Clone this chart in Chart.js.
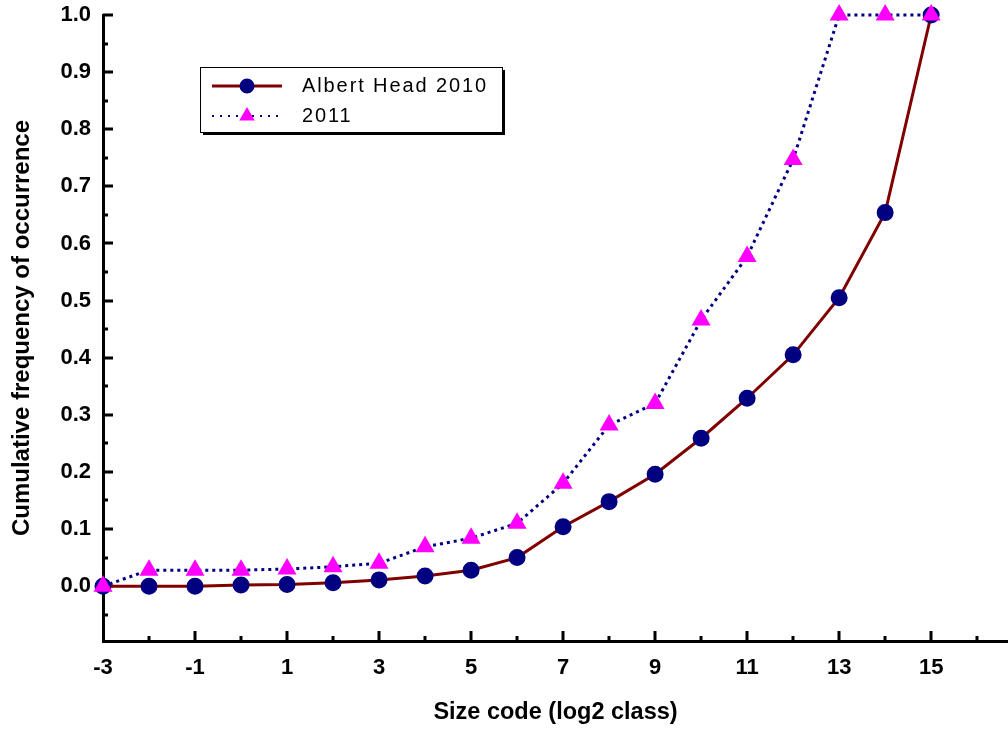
<!DOCTYPE html>
<html>
<head>
<meta charset="utf-8">
<script src="https://cdn.jsdelivr.net/npm/chart.js@4.4.1/dist/chart.umd.min.js"></script>
<style>
  html, body { margin: 0; padding: 0; background: #fff; }
  canvas { display: block; }
</style>
</head>
<body>
<canvas id="chart" width="1008" height="732"></canvas>
<script>
const SIZE_CODES = [-3, -2, -1, 0, 1, 2, 3, 4, 5, 6, 7, 8, 9, 10, 11, 12, 13, 14, 15];
const FREQ_2010  = [0.0, 0.0, 0.0, 0.002, 0.003, 0.006, 0.011, 0.018, 0.028, 0.050, 0.104, 0.148, 0.196, 0.259, 0.329, 0.405, 0.505, 0.654, 1.0];
const FREQ_2011  = [0.0, 0.028, 0.028, 0.028, 0.030, 0.034, 0.040, 0.069, 0.084, 0.110, 0.180, 0.282, 0.320, 0.466, 0.577, 0.747, 1.0, 1.0, 1.0];

const X_TICKS = [-3, -1, 1, 3, 5, 7, 9, 11, 13, 15];
const Y_TICKS = [0.0, 0.1, 0.2, 0.3, 0.4, 0.5, 0.6, 0.7, 0.8, 0.9, 1.0];

const FONT = "'Liberation Sans', Arial, sans-serif";

// ── Helpers ────────────────────────────────────────────────────────────────

function points(ys) {
  return SIZE_CODES.map((x, i) => ({ x, y: ys[i] }));
}

// inward tick marks, major + minor, like the original plot
const innerTicks = {
  id: 'innerTicks',
  beforeDatasetsDraw(chart) {
    const { ctx, chartArea: a, scales: { x, y } } = chart;
    ctx.save();
    ctx.strokeStyle = '#000';
    ctx.lineWidth = 3;
    ctx.beginPath();
    for (let v = -0.05; v <= 1.001; v += 0.05) {
      const py = Math.round(y.getPixelForValue(v));
      const major = Math.abs(v * 10 - Math.round(v * 10)) < 0.01;
      ctx.moveTo(a.left, py);
      ctx.lineTo(a.left + (major ? 10 : 5), py);
    }
    for (let v = -2; v <= 16; v++) {
      const px = Math.round(x.getPixelForValue(v));
      const major = Math.abs(v % 2) === 1;
      ctx.moveTo(px, a.bottom);
      ctx.lineTo(px, a.bottom - (major ? 10 : 5));
    }
    ctx.stroke();
    ctx.restore();
  },
};

// boxed legend sitting inside the plot area
const boxLegend = {
  id: 'boxLegend',
  afterDraw(chart) {
    const { ctx } = chart;
    const bx = 200, by = 67, bw = 302, bh = 65;
    ctx.save();
    ctx.fillStyle = '#000';
    ctx.fillRect(bx + 3, by + 3, bw, bh);
    ctx.fillStyle = '#fff';
    ctx.fillRect(bx, by, bw, bh);
    ctx.strokeStyle = '#000';
    ctx.lineWidth = 1;
    ctx.strokeRect(bx + 0.5, by + 0.5, bw, bh);

    const rows = [
      { y: 86, ds: chart.data.datasets[0] },
      { y: 116, ds: chart.data.datasets[1] },
    ];
    rows.forEach(r => {
      ctx.strokeStyle = r.ds.borderColor;
      ctx.lineWidth = r.ds.borderDash ? 2 : 3;
      ctx.setLineDash(r.ds.borderDash ? [2, 6] : []);
      ctx.beginPath();
      ctx.moveTo(212, r.y);
      ctx.lineTo(282, r.y);
      ctx.stroke();
      ctx.setLineDash([]);
      ctx.fillStyle = r.ds.pointBackgroundColor;
      ctx.strokeStyle = r.ds.pointBorderColor;
      Chart.helpers.drawPoint(ctx, {
        pointStyle: r.ds.pointStyle, radius: r.ds.pointRadius - 1, rotation: 0, borderWidth: 1,
      }, 247, r.y);
      ctx.fillStyle = '#000';
      ctx.font = `20px ${FONT}`;
      ctx.textBaseline = 'middle';
      ctx.letterSpacing = '1.9px';
      ctx.fillText(r.ds.label, 302, r.y);
    });
    ctx.restore();
  },
};

// ── Chart ──────────────────────────────────────────────────────────────────

new Chart(document.getElementById('chart'), {
  type: 'line',
  data: {
    datasets: [
      {
        label: 'Albert Head 2010',
        data: points(FREQ_2010),
        borderColor: '#800000',
        borderWidth: 3,
        pointStyle: 'circle',
        pointRadius: 7,
        pointBackgroundColor: '#000080',
        pointBorderColor: '#000080',
        tension: 0,
        clip: false,
        order: 1,
      },
      {
        label: '2011',
        data: points(FREQ_2011),
        borderColor: '#000080',
        borderWidth: 3,
        borderDash: [3, 4],
        pointStyle: 'triangle',
        pointRadius: 8,
        pointBackgroundColor: '#ff00ff',
        pointBorderColor: '#ff00ff',
        tension: 0,
        clip: false,
        order: 0,
      },
    ],
  },
  options: {
    responsive: false,
    animation: false,
    devicePixelRatio: 1,
    layout: { autoPadding: false, padding: { top: 15, right: 0, left: 0, bottom: 0 } },
    plugins: { legend: { display: false }, tooltip: { enabled: false } },
    scales: {
      x: {
        type: 'linear',
        min: -3, max: 16.67,
        afterBuildTicks: s => { s.ticks = X_TICKS.map(v => ({ value: v })); },
        afterFit: s => { s.height = 91; s.paddingLeft = 0; s.paddingRight = 0; },
        grid: { drawOnChartArea: false, drawTicks: false },
        border: { display: true, color: '#000', width: 3 },
        ticks: { color: '#000', padding: 14, maxRotation: 0, font: { family: FONT, size: 22, weight: 'bold' } },
        title: {
          display: true, text: 'Size code (log2 class)', color: '#000',
          padding: { top: 0, bottom: 5 },
          font: { family: FONT, size: 23.5, weight: 'bold' },
        },
      },
      y: {
        type: 'linear',
        min: -0.096, max: 1.0,
        afterBuildTicks: s => { s.ticks = Y_TICKS.map(v => ({ value: v })); },
        afterFit: s => { s.width = 103; s.paddingTop = 0; s.paddingBottom = 0; },
        grid: { drawOnChartArea: false, drawTicks: false },
        border: { display: true, color: '#000', width: 3 },
        ticks: {
          color: '#000', padding: 12,
          font: { family: FONT, size: 22, weight: 'bold' },
          callback: v => v.toFixed(1),
        },
        title: {
          display: true, text: 'Cumulative frequency of occurrence', color: '#000',
          padding: { top: 8, bottom: 0 },
          font: { family: FONT, size: 24, weight: 'bold' },
        },
      },
    },
  },
  plugins: [innerTicks, boxLegend],
});
</script>
</body>
</html>
